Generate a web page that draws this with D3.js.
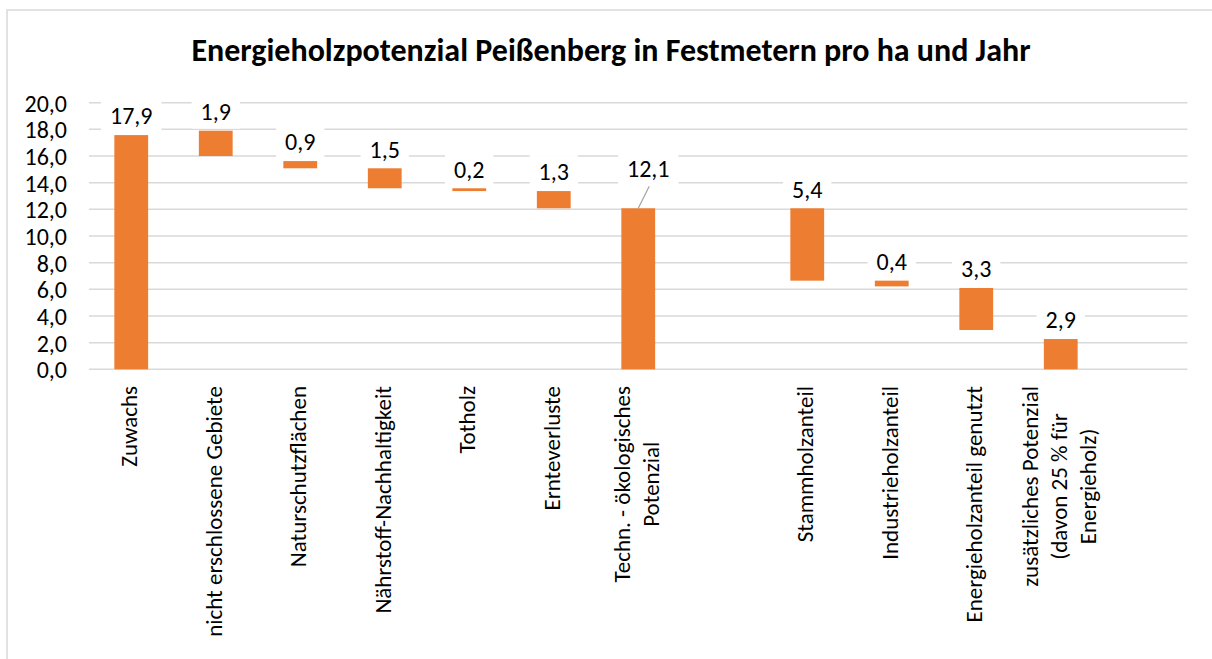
<!DOCTYPE html>
<html>
<head>
<meta charset="utf-8">
<script src="https://cdn.jsdelivr.net/npm/d3@7"></script>
<style>
  html, body { margin: 0; padding: 0; background: #fff; }
  svg text { font-family: Carlito, Calibri, Lato, sans-serif; fill: #000; }
</style>
</head>
<body>
<svg id="chart"></svg>
<script>
// Categories (empty strings are the gap slots of the waterfall)
const categories = [
  "Zuwachs",
  "nicht erschlossene Gebiete",
  "Naturschutzflächen",
  "Nährstoff-Nachhaltigkeit",
  "Totholz",
  "Ernteverluste",
  "Techn. - ökologisches\nPotenzial",
  "",
  "Stammholzanteil",
  "Industrieholzanteil",
  "Energieholzanteil genutzt",
  "zusätzliches Potenzial\n(davon 25 % für\nEnergieholz)",
  ""
];

// bar start / end as drawn
const barBottom = [0, 16.0, 15.08, 13.58, 13.37, 12.08, 0, null, 6.65, 6.22, 2.95, 0, null];
const barTop    = [17.57, 17.9, 15.62, 15.08, 13.58, 13.37, 12.08, null, 12.08, 6.65, 6.1, 2.27, null];

// data label values
const labelValues = [17.9, 1.9, 0.9, 1.5, 0.2, 1.3, 12.1, null, 5.4, 0.4, 3.3, 2.9, null];

// y axis ticks
const yTicks = [0, 2, 4, 6, 8, 10, 12, 14, 16, 18, 20];

const title = "Energieholzpotenzial Peißenberg in Festmetern pro ha und Jahr";

const W = 1212, H = 659;
const plot = { left: 89, right: 1187.5, top: 102.7, bottom: 369.3 };

const svg = d3.select("#chart").attr("width", W).attr("height", H);

const de = d3.formatLocale({ decimal: ",", thousands: ".", grouping: [3], currency: ["", " €"] });
const fmt = de.format(".1f");

// chart frame
svg.append("rect")
  .attr("x", 7).attr("y", 10)
  .attr("width", W + 20).attr("height", H + 20)
  .attr("fill", "none")
  .attr("stroke", "#d9d9d9")
  .attr("stroke-width", 1.5);

const x = d3.scaleBand()
  .domain(d3.range(categories.length))
  .range([plot.left, plot.right])
  .paddingInner(0.6)
  .paddingOuter(0.3);

const y = d3.scaleLinear()
  .domain([0, 20])
  .range([plot.bottom, plot.top]);

// gridlines
svg.append("g")
  .selectAll("line")
  .data(yTicks)
  .join("line")
  .attr("x1", plot.left).attr("x2", plot.right)
  .attr("y1", d => y(d)).attr("y2", d => y(d))
  .attr("stroke", "#d9d9d9")
  .attr("stroke-width", 1.5);

// y axis labels
const yAxis = svg.append("g")
  .attr("transform", `translate(${plot.left - 22},0)`)
  .call(d3.axisLeft(y).tickValues(yTicks).tickFormat(fmt).tickSize(0).tickPadding(0));
yAxis.select(".domain").remove();
yAxis.selectAll("text")
  .style("font-size", "24px")
  .attr("fill", "#000")
  .attr("dy", "0.35em");

const idx = d3.range(categories.length).filter(i => barTop[i] !== null);

// bars
svg.append("g")
  .selectAll("rect")
  .data(idx)
  .join("rect")
  .attr("x", i => x(i))
  .attr("width", x.bandwidth())
  .attr("y", i => y(barTop[i]))
  .attr("height", i => y(barBottom[i]) - y(barTop[i]))
  .attr("fill", "#ED7D31");

// data labels with white boxes
const lab = svg.append("g")
  .selectAll("g")
  .data(idx)
  .join("g")
  .attr("transform", i => {
    const cx = x(i) + x.bandwidth() / 2;
    const cy = y(barTop[i]) - 19;
    // the 12,1 label was dragged up with a leader line
    return i === 6 ? `translate(${cx + 10},${cy - 21})` : `translate(${cx},${cy})`;
  });

lab.append("rect").attr("fill", "#fff");
lab.append("text")
  .attr("text-anchor", "middle")
  .attr("dy", "0.35em")
  .style("font-size", "24px")
  .text(i => fmt(labelValues[i]));
lab.each(function() {
  const g = d3.select(this);
  const w = g.select("text").node().getComputedTextLength();
  g.select("rect")
    .attr("x", -w / 2 - 9).attr("width", w + 18)
    .attr("y", -17).attr("height", 34);
});

// leader line for 12,1
svg.append("line")
  .attr("x1", x(6) + x.bandwidth() / 2 + 11)
  .attr("y1", y(barTop[6]) - 22)
  .attr("x2", x(6) + x.bandwidth() / 2)
  .attr("y2", y(barTop[6]))
  .attr("stroke", "#a6a6a6")
  .attr("stroke-width", 1.2);

// category labels, rotated
const lineH = 29;
const cat = svg.append("g")
  .selectAll("g")
  .data(d3.range(categories.length).filter(i => categories[i] !== ""))
  .join("g")
  .attr("transform", i => `translate(${x(i) + x.bandwidth() / 2},386) rotate(-90)`);

cat.each(function(i) {
  const g = d3.select(this);
  const lines = categories[i].split("\n");
  const n = lines.length;
  const t = g.selectAll("text")
    .data(lines)
    .join("text")
    .attr("text-anchor", "middle")
    .attr("y", (d, k) => 6 + (k - (n - 1) / 2) * lineH)
    .style("font-size", "23px")
    .text(d => d);
  const maxW = d3.max(t.nodes(), nd => nd.getComputedTextLength());
  t.attr("x", -maxW / 2);
});

// title
svg.append("text")
  .attr("x", 611)
  .attr("y", 61)
  .attr("text-anchor", "middle")
  .style("font-size", "32px")
  .style("font-weight", "bold")
  .text(title);
</script>
</body>
</html>
